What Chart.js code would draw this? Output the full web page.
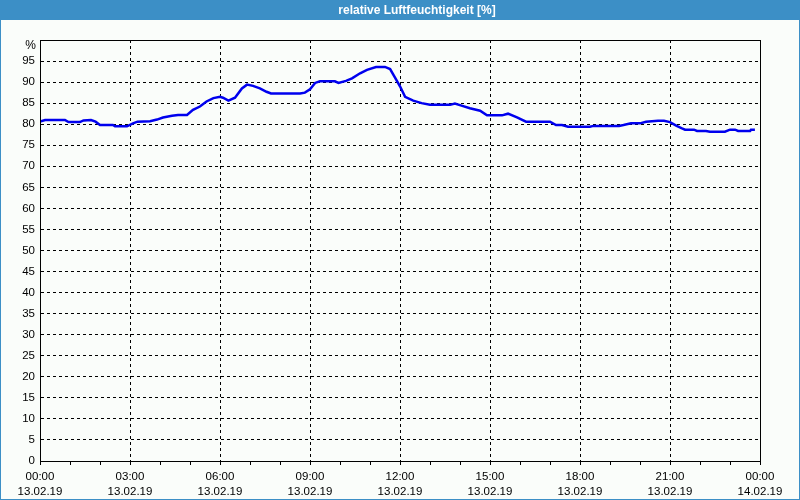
<!DOCTYPE html>
<html>
<head>
<meta charset="utf-8">
<script src="https://cdn.jsdelivr.net/npm/chart.js@4.4.0/dist/chart.umd.min.js"></script>
<style>
  html, body { margin: 0; padding: 0; background: #fafdfa; }
  #wrap { width: 800px; height: 500px; position: relative; }
</style>
</head>
<body>
<div id="wrap"><canvas id="chart" width="800" height="500"></canvas></div>
<script>
const chartTitle = 'relative Luftfeuchtigkeit [%]';
const unitLabel = '%';

// hours since 13.02.19 00:00
const hours = [
  0.0, 0.17, 0.83, 0.95, 1.33, 1.45, 1.7, 1.85, 2.0, 2.43, 2.5, 2.9, 3.1, 3.25, 3.67, 3.9,
  4.1, 4.4, 4.6, 4.9, 5.1, 5.33, 5.55, 5.78, 6.0, 6.1, 6.28, 6.5, 6.73, 6.9, 7.1, 7.33,
  7.55, 7.7, 8.67, 8.83, 9.0, 9.17, 9.33, 9.83, 9.95, 10.2, 10.4, 10.67, 10.9, 11.2, 11.5, 11.67,
  11.83, 12.0, 12.17, 12.44, 12.72, 13.0, 13.67, 13.83, 14.05, 14.33, 14.67, 14.9, 15.4, 15.6,
  15.9, 16.2, 17.0, 17.2, 17.4, 17.6, 18.33, 18.45, 19.3, 19.45, 19.7, 20.0, 20.2, 20.6,
  20.8, 21.0, 21.22, 21.4, 21.5, 21.8, 21.9, 22.2, 22.33, 22.83, 23.0, 23.17, 23.27, 23.67, 23.7, 23.83
];
const humidity = [
  80.6, 81.0, 81.0, 80.5, 80.5, 80.9, 81.0, 80.6, 79.8, 79.8, 79.5, 79.5, 80.2, 80.6, 80.7, 81.1,
  81.6, 82.0, 82.2, 82.2, 83.4, 84.2, 85.4, 86.2, 86.5, 86.3, 85.6, 86.3, 88.5, 89.4, 89.1, 88.5,
  87.7, 87.3, 87.3, 87.5, 88.3, 89.8, 90.2, 90.2, 89.8, 90.3, 90.9, 92.1, 92.9, 93.6, 93.6, 93.1,
  91.1, 89.0, 86.5, 85.6, 85.0, 84.6, 84.6, 84.9, 84.4, 83.8, 83.2, 82.1, 82.1, 82.5,
  81.6, 80.6, 80.6, 79.8, 79.8, 79.4, 79.4, 79.6, 79.6, 79.8, 80.2, 80.2, 80.6, 80.8,
  80.8, 80.5, 79.6, 79.0, 78.7, 78.7, 78.4, 78.4, 78.2, 78.2, 78.7, 78.7, 78.4, 78.4, 78.7, 78.7
];

const timeLabels = ['00:00', '03:00', '06:00', '09:00', '12:00', '15:00', '18:00', '21:00', '00:00'];
const dateLabels = ['13.02.19', '13.02.19', '13.02.19', '13.02.19', '13.02.19', '13.02.19', '13.02.19', '13.02.19', '14.02.19'];

const font = "'Liberation Sans', Arial, sans-serif";

const frame = {
  id: 'frame',
  beforeDraw(chart) {
    const ctx = chart.ctx;
    ctx.save();
    ctx.fillStyle = '#fafdfa';
    ctx.fillRect(0, 0, chart.width, chart.height);
    ctx.fillStyle = '#3c8fc6';
    ctx.fillRect(0, 0, chart.width, 20);
    ctx.strokeStyle = '#3c8fc6';
    ctx.lineWidth = 1;
    ctx.strokeRect(0.5, 0.5, chart.width - 1, chart.height - 1);
    ctx.fillStyle = '#ffffff';
    ctx.font = 'bold 12px ' + font;
    ctx.textAlign = 'center';
    ctx.textBaseline = 'middle';
    ctx.fillText(chartTitle, 417, 11);
    ctx.restore();
  },
  afterDraw(chart) {
    const a = chart.chartArea;
    const ctx = chart.ctx;
    ctx.save();
    ctx.strokeStyle = '#000';
    ctx.lineWidth = 1;
    ctx.strokeRect(Math.round(a.left) + 0.5, Math.round(a.top) + 0.5,
      Math.round(a.right - a.left), Math.round(a.bottom - a.top));
    ctx.fillStyle = '#000';
    ctx.font = '12px ' + font;
    ctx.textAlign = 'right';
    ctx.textBaseline = 'middle';
    ctx.fillText(unitLabel, a.left - 4, a.top + 6);
    ctx.restore();
  }
};

new Chart(document.getElementById('chart'), {
  type: 'line',
  data: {
    datasets: [{
      data: hours.map((h, i) => ({ x: h, y: humidity[i] })),
      borderColor: '#0000ee',
      borderWidth: 2.5,
      pointRadius: 0,
      tension: 0,
      fill: false
    }]
  },
  options: {
    responsive: false,
    animation: false,
    layout: { padding: { top: 40, right: 40, left: 0, bottom: 0 } },
    plugins: { legend: { display: false }, tooltip: { enabled: false } },
    scales: {
      x: {
        type: 'linear',
        min: 0,
        max: 24,
        afterFit: s => { s.height = 39; },
        ticks: {
          stepSize: 1,
          autoSkip: false,
          maxRotation: 0,
          padding: 4,
          color: '#000',
          font: { family: font, size: 11.5, lineHeight: 1.35 },
          callback: v => v % 3 === 0 ? [timeLabels[v / 3], dateLabels[v / 3]] : ''
        },
        grid: {
          color: c => (c.tick && c.tick.value % 3 === 0 && c.tick.value > 0 && c.tick.value < 24) ? '#000' : 'transparent',
          tickColor: '#000',
          tickLength: 4,
          lineWidth: 1
        },
        border: { color: '#000', dash: [3, 3] }
      },
      y: {
        min: 0,
        max: 100,
        afterFit: s => { s.width = 40; },
        ticks: {
          stepSize: 5,
          padding: 5,
          color: '#000',
          font: { family: font, size: 11.5 },
          callback: v => v === 100 ? '' : v
        },
        grid: {
          color: c => (c.tick && c.tick.value > 0 && c.tick.value < 100) ? '#000' : 'transparent',
          drawTicks: false,
          lineWidth: 1
        },
        border: { color: '#000', dash: [3, 3] }
      }
    }
  },
  plugins: [frame]
});
</script>
</body>
</html>
